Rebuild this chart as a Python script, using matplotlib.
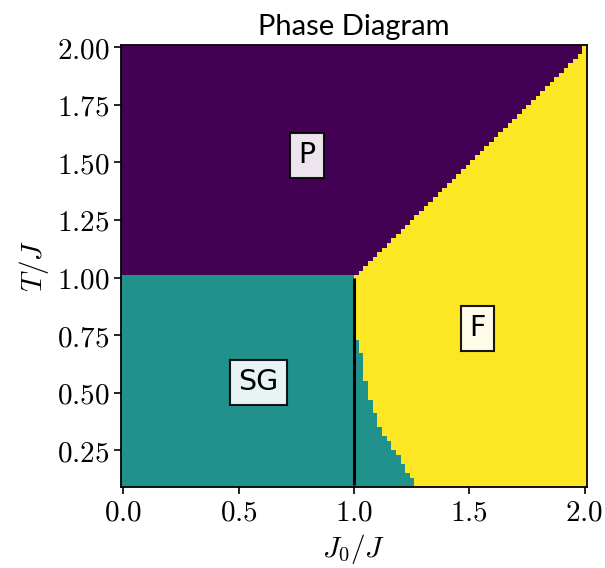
import numpy as np
from matplotlib import pyplot as plt
from matplotlib.ticker import FuncFormatter

plt.rcParams['mathtext.fontset'] = 'cm'

# grid of the phase diagram (J0/J across, T/J up)
J0 = np.linspace(0.0, 2.0, 100)
T = np.linspace(0.1, 2.0, 96)

# P - F boundary (T_c vs J0)
pf_J0 = [1.0, 2.0]
pf_T = [1.0, 2.0]

sf_T = [0.10, 0.13, 0.15, 0.17, 0.21, 0.245, 0.28, 0.30, 0.34, 0.38, 0.44, 0.51, 0.61, 0.72, 0.73, 1.00]
sf_J0 = [1.27, 1.26, 1.24, 1.22, 1.20, 1.18, 1.16, 1.14, 1.12, 1.10, 1.08, 1.06, 1.04, 1.02, 1.00, 1.00]

# vertical line (Parisi boundary)
line_J0 = 1.0
line_T = [0.1, 1.0]

labels = ['P', 'SG', 'F']
label_pos = [(0.795, 1.53), (0.585, 0.545), (1.537, 0.78)]

JJ, TT = np.meshgrid(J0, T)
Tc = np.interp(JJ, pf_J0, pf_T, left=1.0)
Jsf = np.interp(TT, sf_T, sf_J0)
phase = np.where(TT > np.maximum(Tc, 1.0), 0, np.where(JJ >= Jsf, 2, 1))
phase = np.where((TT > 1.0) & (JJ >= TT), 2, phase)

fig = plt.figure(figsize=(6.05, 5.68), dpi=100)
ax = fig.add_axes([0.2, 0.1426, 0.770, 0.7782])
ax.pcolormesh(J0, T, phase, cmap='viridis', shading='nearest', vmin=0, vmax=2)
ax.vlines(line_J0, line_T[0], line_T[1], color='k', lw=2.2)

for lab, (x, y) in zip(labels, label_pos):
    ax.text(x, y, lab, fontsize=20.5, ha='center', va='center',
            bbox=dict(boxstyle='square,pad=0.3', facecolor='white', alpha=0.9,
                      edgecolor='k', linewidth=1.5))

ax.set_xticks([0.0, 0.5, 1.0, 1.5, 2.0])
ax.set_yticks([0.25, 0.5, 0.75, 1.0, 1.25, 1.5, 1.75, 2.0])
ax.xaxis.set_major_formatter(FuncFormatter(lambda v, p: '$%.1f$' % v))
ax.yaxis.set_major_formatter(FuncFormatter(lambda v, p: '$%.2f$' % v))
ax.tick_params(labelsize=21, length=5, width=1.2)
for s in ax.spines.values():
    s.set_linewidth(1.3)

ax.set_xlabel('$J_0/J$', fontsize=21)
ax.set_ylabel('$T/J$', fontsize=21)
ax.set_title('Phase Diagram', fontsize=21, family='Lato', pad=7)

plt.savefig('out.png', dpi=100)
